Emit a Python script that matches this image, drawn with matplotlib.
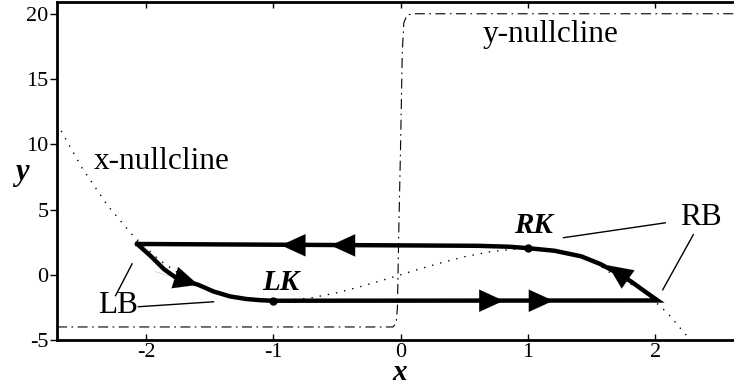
import numpy as np
import matplotlib
matplotlib.use("Agg")
import matplotlib.pyplot as plt

plt.rcParams['font.family'] = ['Liberation Serif', 'DejaVu Serif']

# x-nullcline (dotted cubic)
xn_x = [-2.7, -2.5, -2.3, -2.1, -1.9, -1.7, -1.5, -1.3, -1.1, -0.9, -0.7, -0.5, -0.3, -0.1,
        0.1, 0.3, 0.5, 0.7, 0.9, 1.1, 1.3, 1.5, 1.7, 1.9, 2.1, 2.3]
xn_y = [11.58, 8.13, 5.27, 2.96, 1.16, -0.19, -1.13, -1.70, -1.97, -1.97, -1.76, -1.38, -0.87, -0.30,
        0.30, 0.87, 1.38, 1.76, 1.97, 1.97, 1.70, 1.13, -0.19, -1.16, -2.96, -5.27]

# y-nullcline (dash-dot step)
yn_x = [-2.7, -0.06, -0.035, -0.025, -0.015, 0.0, 0.013, 0.025, 0.05, 0.1, 2.62]
yn_y = [-4, -4, -3.7, -2.5, 3, 10, 17, 19.3, 19.9, 20, 20]

# limit cycle
cyc_x = [-2.07, -1.96, -1.86, -1.76, -1.67, -1.59, -1.47, -1.34, -1.21, -1.1, -1.0,
         2.02, 1.97, 1.92, 1.81, 1.7, 1.57, 1.42, 1.21, 1.0, 0.85, 0.6, -2.07]
cyc_y = [2.36, 1.40, 0.43, -0.26, -0.53, -0.77, -1.28, -1.66, -1.86, -1.95, -1.99,
         -1.97, -1.63, -1.28, -0.51, 0.15, 0.82, 1.41, 1.84, 2.04, 2.15, 2.22, 2.36]

# arrow heads: tip and a point behind it along the path
arr_tip = [(-0.94, 2.26), (-0.55, 2.25), (0.81, -1.99), (1.20, -1.99), (-1.59, -0.77), (1.63, 0.72)]
arr_tail = [(-0.5, 2.26), (-0.1, 2.25), (0.4, -1.99), (0.8, -1.99), (-1.93, 0.25), (1.99, -1.74)]

# knees
knee_x = [-1.0, 1.0]
knee_y = [-1.99, 2.06]
knee_lab = ['LK', 'RK']
knee_lab_pos = [(-0.94, -1.15), (1.04, 3.2)]

tick_x = [-2, -1, 0, 1, 2]
tick_y = [-5, 0, 5, 10, 15, 20]

fig = plt.figure(figsize=(7.34, 3.87), dpi=100)
ax = fig.add_axes([0.0777, 0.1214, 0.9223, 0.8734])

ax.plot(xn_x, xn_y, color='k', lw=1.0, ls=(0, (1, 5)))
ax.plot(yn_x, yn_y, color='k', lw=0.8, ls=(0, (9, 4, 1.5, 4)))
ax.plot(cyc_x, cyc_y, color='k', lw=3.2, solid_joinstyle='miter')

for tip, tail in zip(arr_tip, arr_tail):
    ax.annotate('', xy=tip, xytext=tail,
                arrowprops=dict(arrowstyle='-|>,head_length=1.75,head_width=0.8',
                                color='k', lw=0.1, shrinkA=0, shrinkB=0))

ax.plot(knee_x, knee_y, 'o', color='k', ms=5)
for lab, pos in zip(knee_lab, knee_lab_pos):
    ax.text(pos[0], pos[1], lab, fontsize=21, fontweight='bold', fontstyle='italic',
            ha='center', va='baseline')

ax.text(-2.41, 8.66, 'x-nullcline', fontsize=22.5, va='center', ha='left')
ax.text(0.645, 18.4, 'y-nullcline', fontsize=22.5, va='center', ha='left')

# LB / RB labels with pointer lines
ax.text(-2.22, -2.9, 'LB', fontsize=22.5, ha='center', va='baseline')
ax.plot([-2.24, -2.11], [-1.6, 0.84], color='k', lw=1)
ax.plot([-2.06, -1.47], [-2.45, -2.07], color='k', lw=1)
ax.text(2.36, 3.83, 'RB', fontsize=22.5, ha='center', va='baseline')
ax.plot([2.08, 1.28], [3.98, 2.84], color='k', lw=1)
ax.plot([2.30, 2.06], [3.07, -1.15], color='k', lw=1)

ax.set_xlim(-2.7, 2.62)
ax.set_ylim(-5, 20.9)
ax.set_xticks(tick_x)
ax.set_xticklabels([str(t) for t in tick_x])
ax.set_yticks(tick_y)
ax.set_yticklabels([str(t) for t in tick_y])
ax.tick_params(axis='x', direction='in', top=True, length=4, width=1, labelsize=16, pad=2)
ax.tick_params(axis='y', direction='out', length=5, width=1, labelsize=16, pad=1)
for s in ['left', 'bottom', 'top']:
    ax.spines[s].set_linewidth(2)
ax.spines['right'].set_visible(False)

ax.set_xlabel('x', fontsize=21, fontweight='bold', fontstyle='italic', va='bottom')
ax.xaxis.set_label_coords(0.5066, -0.136)
ax.set_ylabel('y', fontsize=22, fontweight='bold', fontstyle='italic', rotation=0,
              va='center', ha='center')
ax.yaxis.set_label_coords(-0.052, 0.497)

fig.savefig('out.png', dpi=100)
